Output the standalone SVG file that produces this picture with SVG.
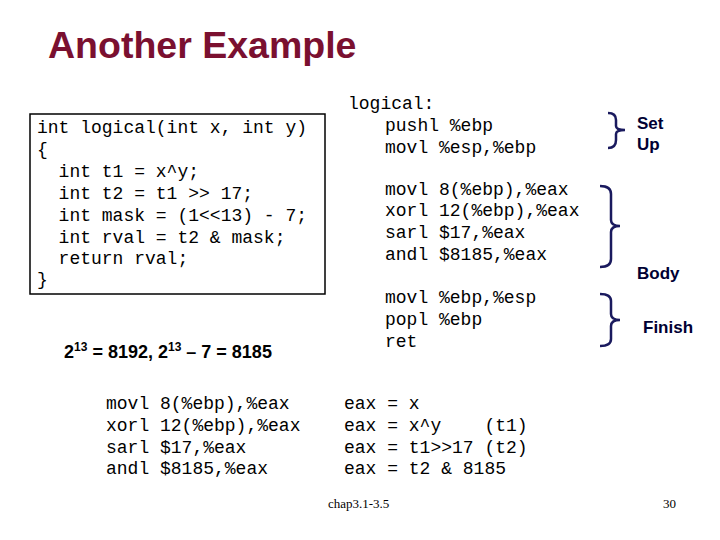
<svg xmlns="http://www.w3.org/2000/svg" width="720" height="540" viewBox="0 0 720 540">
<style>
.m{font-family:"Liberation Mono",monospace;font-size:18px;fill:#000;white-space:pre}
.s{font-family:"Liberation Sans",Arial,sans-serif;font-weight:bold;font-size:17px;fill:#000033}
.b{fill:none;stroke:#1a1a5e;stroke-width:2.5}
</style>
<rect width="720" height="540" fill="#fff"/>
<text x="48" y="58" font-family="Liberation Sans,Arial,sans-serif" font-weight="bold" font-size="37.5" fill="#7a1030">Another Example</text>
<g id="source">
<rect x="30" y="114" width="295" height="180" fill="none" stroke="#000" stroke-width="1.5"/>
<text class="m" x="37" y="133">int logical(int x, int y)</text>
<text class="m" x="37" y="155">{</text>
<text class="m" x="37" y="177">  int t1 = x^y;</text>
<text class="m" x="37" y="199">  int t2 = t1 &gt;&gt; 17;</text>
<text class="m" x="37" y="221">  int mask = (1&lt;&lt;13) - 7;</text>
<text class="m" x="37" y="243">  int rval = t2 &amp; mask;</text>
<text class="m" x="37" y="264">  return rval;</text>
<text class="m" x="37" y="285">}</text>
</g>
<text x="64" y="358" font-family="Liberation Sans,Arial,sans-serif" font-weight="bold" font-size="18">2<tspan font-size="12" dy="-7">13</tspan><tspan dy="7"> = 8192, 2</tspan><tspan font-size="12" dy="-7">13</tspan><tspan dy="7"> – 7 = 8185</tspan></text>
<g id="asm">
<text class="m" x="348" y="109">logical:</text>
<text class="m" x="385" y="131">pushl %ebp</text>
<text class="m" x="385" y="153">movl %esp,%ebp</text>
<text class="m" x="385" y="195">movl 8(%ebp),%eax</text>
<text class="m" x="385" y="216">xorl 12(%ebp),%eax</text>
<text class="m" x="385" y="238">sarl $17,%eax</text>
<text class="m" x="385" y="260">andl $8185,%eax</text>
<text class="m" x="385" y="303">movl %ebp,%esp</text>
<text class="m" x="385" y="325">popl %ebp</text>
<text class="m" x="385" y="347">ret</text>
</g>
<g id="braces">
<path class="b" d="M608 113 Q616 113 616 120 V126 Q616 130 625 130 Q616 130 616 134 V140 Q616 148 608 148"/>
<path class="b" d="M600 186 Q611 186 611 194 V220 Q611 226 620 226 Q611 226 611 232 V259 Q611 267 600 267"/>
<path class="b" d="M600 294 Q611 294 611 301 V314 Q611 320 620 320 Q611 320 611 326 V339 Q611 346 600 346"/>
<text class="s" x="637" y="129">Set</text>
<text class="s" x="637" y="150">Up</text>
<text class="s" x="637" y="279">Body</text>
<text class="s" x="643" y="333">Finish</text>
</g>
<g id="bottom">
<text class="m" x="106" y="409">movl 8(%ebp),%eax</text>
<text class="m" x="106" y="431">xorl 12(%ebp),%eax</text>
<text class="m" x="106" y="453">sarl $17,%eax</text>
<text class="m" x="106" y="474">andl $8185,%eax</text>
<text class="m" x="344" y="409">eax = x</text>
<text class="m" x="344" y="431">eax = x^y    (t1)</text>
<text class="m" x="344" y="453">eax = t1&gt;&gt;17 (t2)</text>
<text class="m" x="344" y="474">eax = t2 &amp; 8185</text>
</g>
<text x="328" y="508" font-family="Liberation Serif,serif" font-size="13">chap3.1-3.5</text>
<text x="663" y="508" font-family="Liberation Serif,serif" font-size="13">30</text>
</svg>
